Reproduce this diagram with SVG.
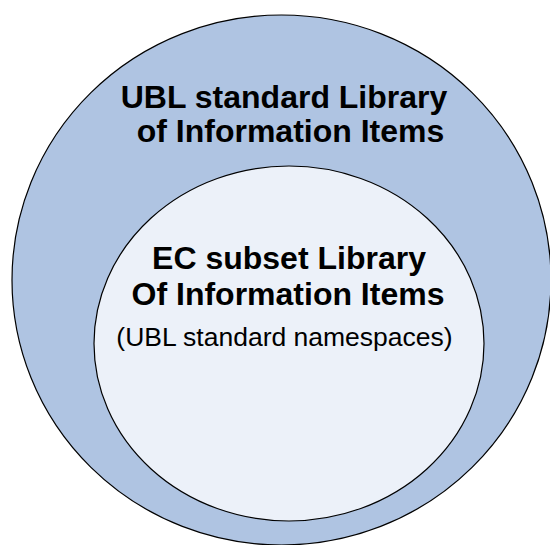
<svg xmlns="http://www.w3.org/2000/svg" width="550" height="545" viewBox="0 0 550 545">
<style>
.ring{stroke:#000;stroke-width:1.2}
.b{font-family:"Liberation Sans",Arial,sans-serif;font-weight:bold;font-size:32px;fill:#000;text-anchor:middle}
.r{font-family:"Liberation Sans",Arial,sans-serif;font-size:26.5px;fill:#000;text-anchor:middle}
</style>
<rect width="550" height="545" fill="#fff"/>
<g id="outer">
<ellipse class="ring" cx="281.5" cy="280" rx="269.5" ry="265" fill="#AFC4E2"/>
<text class="b" x="284" y="108">UBL standard Library</text>
<text class="b" x="290.5" y="142">of Information Items</text>
</g>
<g id="inner">
<ellipse class="ring" cx="289" cy="343.5" rx="195" ry="177.5" fill="#ECF1F9"/>
<text class="b" x="289" y="269">EC subset Library</text>
<text class="b" x="288" y="305">Of Information Items</text>
<text class="r" x="284.5" y="346">(UBL standard namespaces)</text>
</g>
<g id="connectors"/>
</svg>
